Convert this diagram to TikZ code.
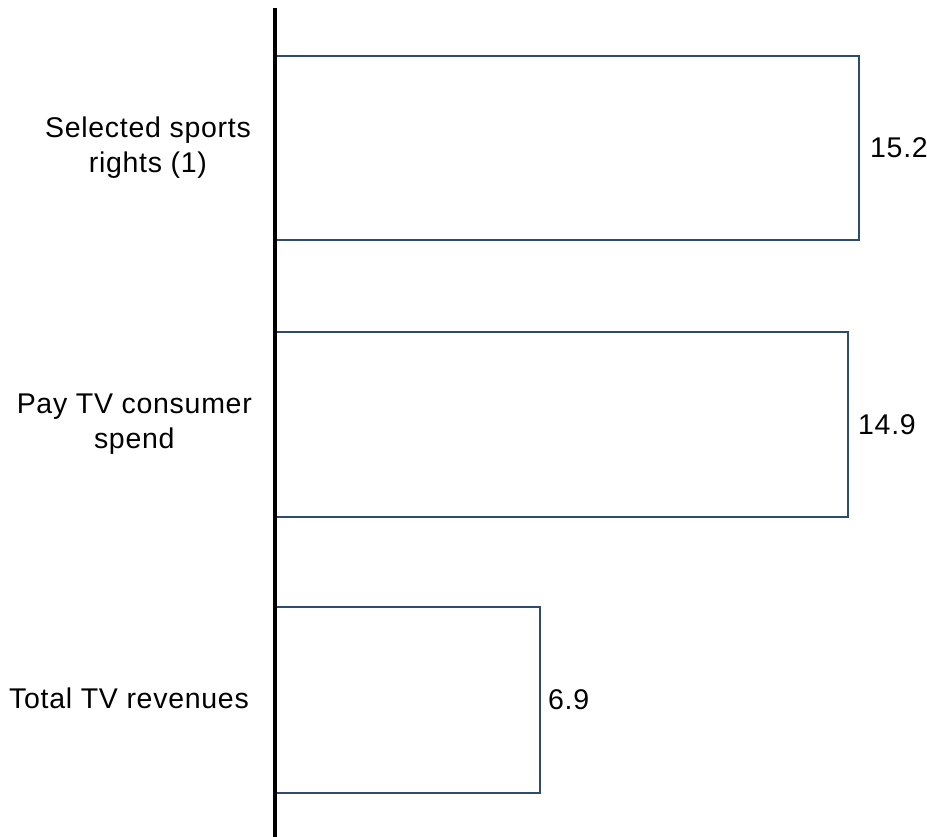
\documentclass[tikz,border=0pt]{standalone}
\usepackage{fontspec}
\setmainfont{Liberation Sans}
\newfontfamily\lblfont{Liberation Sans}[LetterSpace=2.5]
\definecolor{barline}{HTML}{2E4A6D}
\begin{document}
\begin{tikzpicture}[x=1pt,y=-1pt,
  bar/.style={draw=barline,line width=2pt,fill=white},
  cat/.style={anchor=east,align=center,font=\lblfont\fontsize{28.5}{35}\selectfont,inner sep=0pt},
  val/.style={anchor=west,font=\lblfont\fontsize{28.5}{35}\selectfont,inner sep=0pt}]
\useasboundingbox (0,0) rectangle (927,837);
% bars
\draw[bar] (275,56) rectangle (859,240);
\draw[bar] (275,332) rectangle (848,517);
\draw[bar] (275,607) rectangle (540,793);
\coordinate (b1) at (859,148);
\coordinate (b2) at (848,424.5);
\coordinate (b3) at (540,700);
% value axis
\coordinate (axtop) at (275,8);
\coordinate (axbot) at (275,837);
\draw[line width=4pt,black] (axtop) -- (axbot);
% category labels
\node[cat] (c1) at (251,148) {Selected sports\\rights (1)};
\node[cat] (c2) at (252,424.5) {Pay TV consumer\\spend};
\node[cat] (c3) at (249,698) {Total TV revenues};
% values
\node[val] (v1) at ([xshift=11pt]b1) {15.2};
\node[val] (v2) at ([xshift=10pt]b2) {14.9};
\node[val] (v3) at ([xshift=8pt]b3) {6.9};
\end{tikzpicture}
\end{document}
